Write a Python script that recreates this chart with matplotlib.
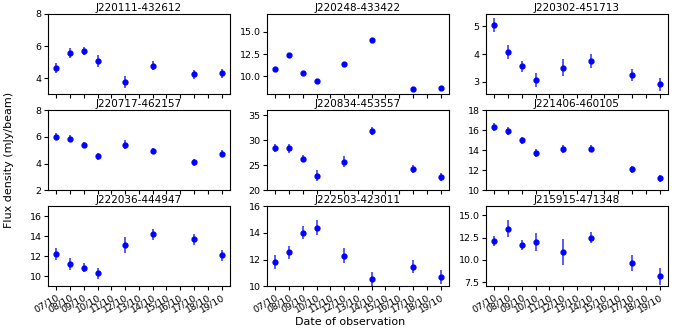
import matplotlib
matplotlib.use("Agg")
import matplotlib.pyplot as plt
import numpy as np

dates = ["07/10", "08/10", "09/10", "10/10", "11/10", "12/10", "13/10",
         "14/10", "15/10", "16/10", "17/10", "18/10", "19/10"]
obs_idx = [0, 1, 2, 3, 5, 7, 10, 12]

names = ["J220111-432612", "J220248-433422", "J220302-451713",
         "J220717-462157", "J220834-453557", "J221406-460105",
         "J222036-444947", "J222503-423011", "J215915-471348"]

flux_J220111 = [4.64, 5.55, 5.67, 5.07, 3.75, 4.78, 4.23, 4.31]
err_J220111 = [0.3, 0.3, 0.25, 0.35, 0.4, 0.3, 0.28, 0.28]
flux_J220248 = [10.83, 12.42, 10.38, 9.47, 11.40, 14.05, 8.6, 8.7]
err_J220248 = [0.25, 0.25, 0.2, 0.25, 0.25, 0.25, 0.15, 0.15]
flux_J220302 = [5.06, 4.06, 3.55, 3.05, 3.5, 3.76, 3.24, 2.9]
err_J220302 = [0.25, 0.25, 0.2, 0.25, 0.31, 0.25, 0.22, 0.22]
flux_J220717 = [6.0, 5.87, 5.37, 4.55, 5.42, 4.95, 4.1, 4.75]
err_J220717 = [0.25, 0.25, 0.22, 0.25, 0.35, 0.25, 0.25, 0.25]
flux_J220834 = [28.4, 28.4, 26.3, 22.9, 25.7, 31.8, 24.3, 22.6]
err_J220834 = [0.75, 0.9, 0.75, 1.05, 1.1, 0.8, 0.8, 0.8]
flux_J221406 = [16.27, 15.9, 15.0, 13.7, 14.07, 14.13, 12.1, 11.2]
err_J221406 = [0.4, 0.4, 0.35, 0.4, 0.4, 0.35, 0.35, 0.35]
flux_J222036 = [12.23, 11.2, 10.87, 10.33, 13.13, 14.2, 13.73, 12.13]
err_J222036 = [0.58, 0.6, 0.45, 0.55, 0.78, 0.55, 0.55, 0.55]
flux_J222503 = [11.83, 12.55, 14.03, 14.4, 12.3, 10.53, 11.48, 10.7]
err_J222503 = [0.5, 0.5, 0.5, 0.55, 0.55, 0.55, 0.5, 0.5]
flux_J215915 = [12.13, 13.5, 11.64, 12.0, 10.9, 12.5, 9.66, 8.17]
err_J215915 = [0.6, 0.93, 0.55, 1.0, 1.42, 0.65, 0.85, 0.95]

fluxes = [flux_J220111, flux_J220248, flux_J220302, flux_J220717, flux_J220834,
          flux_J221406, flux_J222036, flux_J222503, flux_J215915]
errs = [err_J220111, err_J220248, err_J220302, err_J220717, err_J220834,
        err_J221406, err_J222036, err_J222503, err_J215915]
ylims = [(3, 8), (8, 17), (2.55, 5.45), (2, 8), (20, 36), (10, 18),
         (9, 17), (10, 16), (7.05, 16)]
yticks = [[4, 6, 8], [10, 12.5, 15], [3, 4, 5], [2, 4, 6, 8], [20, 25, 30, 35],
          [10, 12, 14, 16, 18], [10, 12, 14, 16], [10, 12, 14, 16], [7.5, 10, 12.5, 15]]

fig, axes = plt.subplots(3, 3, figsize=(6.74, 3.33), dpi=100, sharex=True)
fig.subplots_adjust(left=0.071, right=0.991, top=0.958, bottom=0.14,
                    wspace=0.203, hspace=0.2)

xpos = np.arange(len(dates))
for i, ax in enumerate(axes.flat):
    x = xpos[obs_idx]
    ax.errorbar(x, fluxes[i], yerr=errs[i], fmt='o', color='blue',
                ecolor=(0.3, 0.3, 1.0), elinewidth=1.3, markersize=3.5, capsize=0)
    ax.set_title(names[i], fontsize=7.5, pad=2)
    ax.set_ylim(*ylims[i])
    ax.set_yticks(yticks[i])
    ax.tick_params(axis='both', labelsize=6.8, length=3, pad=1.5)
    ax.set_xticks(xpos)
    ax.set_xlim(-0.6, 12.6)

for ax in axes[2]:
    ax.set_xticklabels(dates, rotation=30, ha='right', rotation_mode='anchor')

fig.text(0.52, 0.033, "Date of observation", ha='center', va='center', fontsize=8)
fig.text(0.014, 0.52, "Flux density (mJy/beam)", ha='center', va='center',
         rotation=90, fontsize=8)

fig.savefig("out.png", dpi=100)
